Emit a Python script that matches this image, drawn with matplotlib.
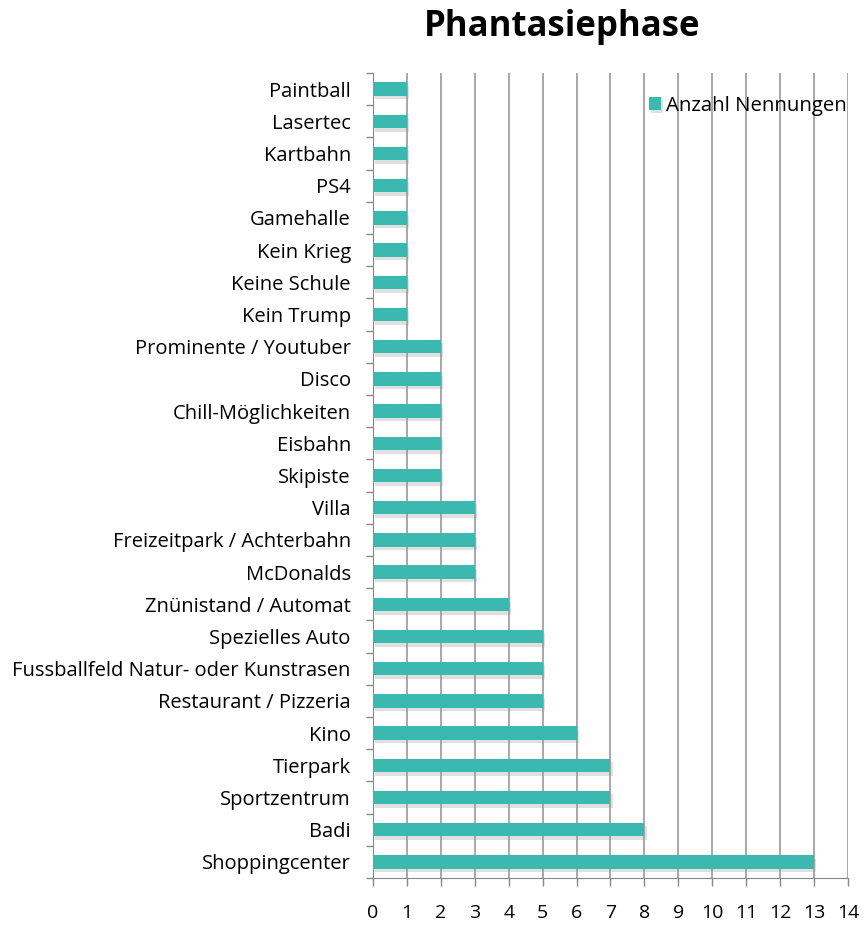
import matplotlib
matplotlib.use("Agg")
import matplotlib.pyplot as plt
import matplotlib.patheffects as pe
from matplotlib.ticker import FixedLocator

categories = ["Shoppingcenter", "Badi", "Sportzentrum", "Tierpark", "Kino",
              "Restaurant / Pizzeria", "Fussballfeld Natur- oder Kunstrasen",
              "Spezielles Auto", "Znünistand / Automat", "McDonalds",
              "Freizeitpark / Achterbahn", "Villa", "Skipiste", "Eisbahn",
              "Chill-Möglichkeiten", "Disco", "Prominente / Youtuber",
              "Kein Trump", "Keine Schule", "Kein Krieg", "Gamehalle", "PS4",
              "Kartbahn", "Lasertec", "Paintball"]
values = [13, 8, 7, 7, 6, 5, 5, 5, 4, 3, 3, 3, 2, 2, 2, 2, 2, 1, 1, 1, 1, 1, 1, 1, 1]
xticks = list(range(0, 15))

plt.rcParams['font.family'] = ['Open Sans', 'DejaVu Sans']

fig = plt.figure(figsize=(8.64, 9.25), dpi=100)
ax = fig.add_axes([373/864, 1-878/925, (848-373)/864, (878-73)/925])

color = "#3BB8B0"
n = len(categories)
bars = ax.barh(range(n), values, height=0.42, color=color, zorder=3,
               label="Anzahl Nennungen")
for b in bars:
    b.set_path_effects([pe.SimplePatchShadow(offset=(1.5, -2.5), shadow_rgbFace="#999999", alpha=0.3),
                        pe.Normal()])

ax.set_xlim(0, 14)
ax.set_ylim(-0.5, n - 0.5)
ax.set_xticks(xticks)
ax.set_xticklabels([str(t) for t in xticks], fontsize=14)
ax.set_yticks(range(n))
ax.set_yticklabels(categories, fontsize=14.5)
ax.tick_params(axis='y', length=0, pad=16)
ax.yaxis.set_minor_locator(FixedLocator([i - 0.5 for i in range(n + 1)]))
ax.tick_params(axis='y', which='minor', length=5, color="#888888", width=1)
ax.tick_params(axis='x', length=6, color="#888888", width=1, pad=13)

ax.grid(axis='x', color="#999999", linewidth=1.2, zorder=0)
for s in ["top", "right"]:
    ax.spines[s].set_visible(False)
ax.spines["left"].set_color("#888888")
ax.spines["bottom"].set_color("#888888")

ax.legend(loc="upper left", bbox_to_anchor=(0.58, 0.972), frameon=False,
          fontsize=14.7, handlelength=0.6, handleheight=0.6, handletextpad=0.25,
          borderaxespad=0, borderpad=0)

fig.text(0.651, 0.971, "Phantasiephase", fontsize=25, fontweight='bold',
         ha='center', va='center')

fig.savefig("out.png", dpi=100)
